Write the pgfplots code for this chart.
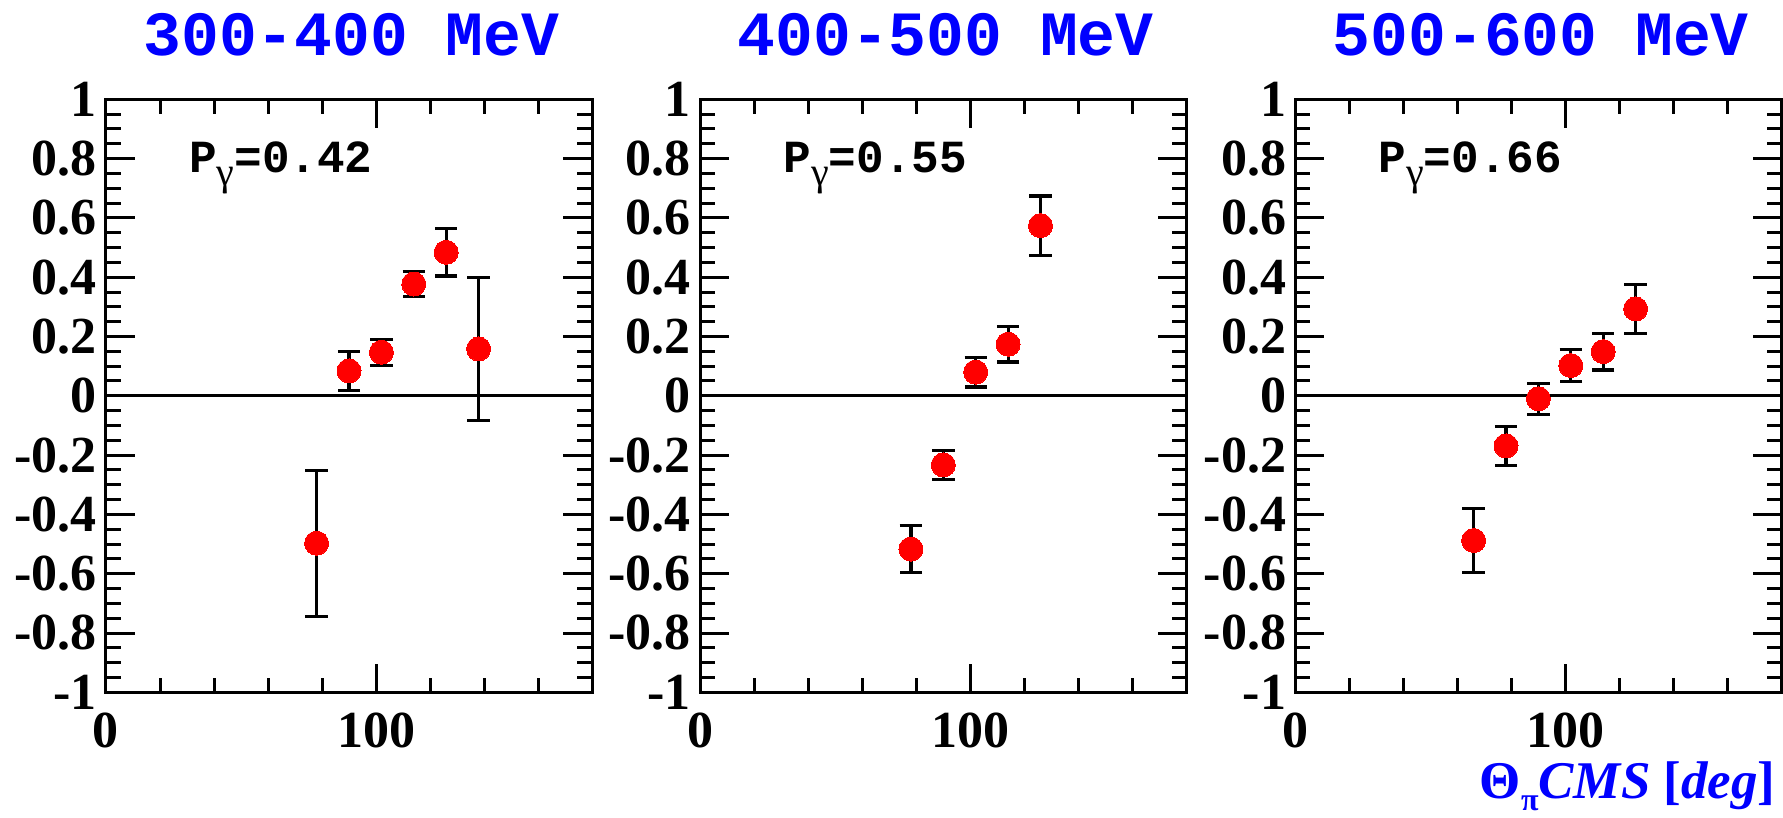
\documentclass[border=0pt]{standalone}
\usepackage{fontspec}
\setmainfont{Liberation Serif}
\newfontfamily\monofont{Liberation Mono}
\usepackage{pgfplots}
\usepackage{pgfplotstable}
\pgfplotsset{compat=1.18}

\pgfplotstableread{
x y e
78 -0.497 0.246
90 0.084 0.065
102 0.147 0.044
114 0.377 0.042
126 0.484 0.080
138 0.158 0.242
}\dataA
\pgfplotstableread{
x y e
78 -0.517 0.080
90 -0.233 0.048
102 0.080 0.050
114 0.174 0.060
126 0.574 0.100
}\dataB
\pgfplotstableread{
x y e
66 -0.488 0.107
78 -0.169 0.065
90 -0.010 0.052
102 0.102 0.053
114 0.149 0.062
126 0.293 0.082
}\dataC

\pgfplotsset{
  every axis title shift=0pt,
  panel/.style={
    scale only axis, width=243pt, height=296.5pt,
    anchor=south west,
    xmin=0, xmax=180, ymin=-1, ymax=1,
    xtick={0,100}, xticklabels={0,100},
    minor xtick={20,40,60,80,120,140,160},
    ytick={-1,-0.8,-0.6,-0.4,-0.2,0,0.2,0.4,0.6,0.8,1},
    yticklabels={-1,-0.8,-0.6,-0.4,-0.2,0,0.2,0.4,0.6,0.8,1},
    minor y tick num=3,
    tick align=inside,
    major tick length=14.25pt, minor tick length=7.3pt,
    axis line style={line width=1.5pt},
    tick style={line width=1.5pt, black},
    tick label style={font=\bfseries\fontsize{26}{26}\selectfont},
    yticklabel style={anchor=east, inner sep=0pt, xshift=-4.5pt},
    xticklabel style={anchor=north, inner sep=0pt, yshift=-10pt},
    title style={font=\monofont\bfseries\fontsize{31.5}{31.5}\selectfont, text=blue,
      at={(axis description cs:0.5,1)}, anchor=base, yshift=22pt, xshift=1.2pt, inner sep=0pt},
  },
  pts/.style={only marks, mark=*, mark size=6pt, red,
    mark options={fill=red, draw=red, line width=0pt},
    error bars/.cd, y dir=both, y explicit,
    error bar style={line width=1.6pt, black},
    error mark options={rotate=90, line width=1.6pt, black, mark size=5.6pt}},
  zl/.style={black, line width=1.5pt, mark=none},
}

\newcommand{\plabel}[1]{\node[anchor=base west, inner sep=0pt, font=\monofont\bfseries\fontsize{23}{23}\selectfont]
  at (axis cs:30.7,0.752) {P\raisebox{-6.5pt}{\rmfamily\mdseries\fontsize{20}{20}\selectfont γ}=#1};}

\begin{document}
\begin{tikzpicture}
\begin{axis}[panel, at={(53pt,-346.15pt)}, title={300-400 MeV}]
  \addplot[zl] coordinates {(0,0) (180,0)};
  \addplot[pts] table[x=x, y=y, y error=e] {\dataA};
  \plabel{0.42}
\end{axis}
\begin{axis}[panel, at={(350.15pt,-346.15pt)}, title={400-500 MeV}]
  \addplot[zl] coordinates {(0,0) (180,0)};
  \addplot[pts] table[x=x, y=y, y error=e] {\dataB};
  \plabel{0.55}
\end{axis}
\begin{axis}[panel, at={(647.7pt,-346.15pt)}, title={500-600 MeV},
  xlabel={\bfseries Θ\raisebox{-6pt}{\fontsize{16}{16}\selectfont π}\textit{CMS} [\textit{deg}]},
  xlabel style={at={(axis description cs:1,0)}, anchor=base east, yshift=-53pt, xshift=-2.7pt,
    inner sep=0pt, font=\fontsize{26.5}{26.5}\selectfont, text=blue}]
  \addplot[zl] coordinates {(0,0) (180,0)};
  \addplot[pts] table[x=x, y=y, y error=e] {\dataC};
  \plabel{0.66}
\end{axis}
\pgfresetboundingbox
\useasboundingbox (0pt,0pt) rectangle (891.5pt,-409pt);
\end{tikzpicture}
\end{document}
